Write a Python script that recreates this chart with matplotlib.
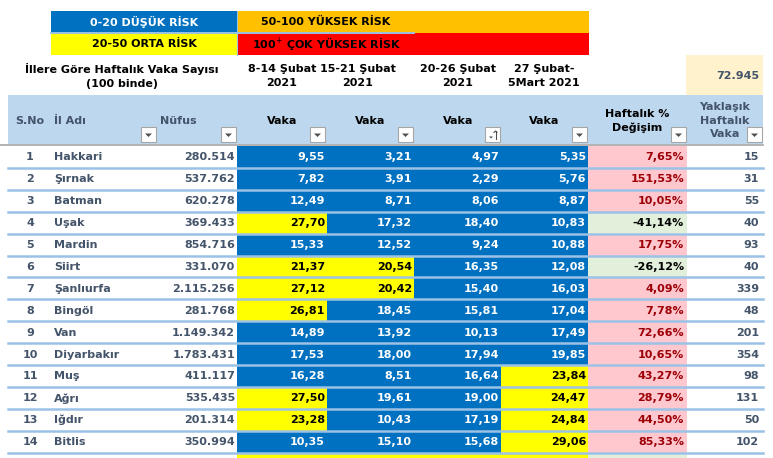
import matplotlib
matplotlib.use("Agg")
import matplotlib.pyplot as plt
from matplotlib.patches import Rectangle, Polygon

plt.rcParams['font.family'] = ['DejaVu Sans']

# table data (values per 100 thousand)
sno = list(range(1, 15))
iller = ["Hakkari", "Şırnak", "Batman", "Uşak", "Mardin", "Siirt", "Şanlıurfa",
         "Bingöl", "Van", "Diyarbakır", "Muş", "Ağrı", "Iğdır", "Bitlis"]
nufus = [280514, 537762, 620278, 369433, 854716, 331070, 2115256,
         281768, 1149342, 1783431, 411117, 535435, 201314, 350994]
hafta1 = [9.55, 7.82, 12.49, 27.70, 15.33, 21.37, 27.12, 26.81, 14.89, 17.53, 16.28, 27.50, 23.28, 10.35]
hafta2 = [3.21, 3.91, 8.71, 17.32, 12.52, 20.54, 20.42, 18.45, 13.92, 18.00, 8.51, 19.61, 10.43, 15.10]
hafta3 = [4.97, 2.29, 8.06, 18.40, 9.24, 16.35, 15.40, 15.81, 10.13, 17.94, 16.64, 19.00, 17.19, 15.68]
hafta4 = [5.35, 5.76, 8.87, 10.83, 10.88, 12.08, 16.03, 17.04, 17.49, 19.85, 23.84, 24.47, 24.84, 29.06]
degisim = [7.65, 151.53, 10.05, -41.14, 17.75, -26.12, 4.09, 7.78, 72.66, 10.65, 43.27, 28.79, 44.50, 85.33]
yaklasik = [15, 31, 55, 40, 93, 40, 339, 48, 201, 354, 98, 131, 50, 102]

hafta_basliklari = ["8-14 Şubat\n2021", "15-21 Şubat\n2021", "20-26 Şubat\n2021", "27 Şubat-\n5Mart 2021"]
toplam = 72945

BLUE = "#0070C0"
YELLOW = "#FFFF00"
ORANGE = "#FFC000"
RED = "#FF0000"
HEAD = "#BDD7EE"
LINE = "#9BC2E6"
SLATE = "#44546A"
PINK = "#FFC7CE"
DARKRED = "#9C0006"
GREEN = "#E2EFDA"
FS = 8


def tr_int(v):
    return f"{v:,}".replace(",", ".")


def tr_dec(v):
    return f"{v:.2f}".replace(".", ",")


fig = plt.figure(figsize=(7.73, 4.58), dpi=100)
ax = fig.add_axes([0, 0, 1, 1])
ax.set_xlim(0, 773)
ax.set_ylim(458, 0)
ax.axis("off")

def box(x0, y0, x1, y1, color, z=1):
    ax.add_patch(Rectangle((x0, y0), x1 - x0, y1 - y0, facecolor=color, edgecolor="none", zorder=z))

# legend
box(51, 11, 237, 33, BLUE)
box(51, 33, 237, 55, YELLOW)
box(237, 11, 589, 33, ORANGE)
box(237, 33, 589, 55, RED)
ax.plot([51, 237], [33, 33], color=LINE, lw=1.4, zorder=2)
ax.plot([237, 237], [11, 55], color=LINE, lw=0.8, zorder=2)
ax.plot([237, 414], [33, 33], color=LINE, lw=1.4, zorder=2)
ax.text(144, 22, "0-20 DÜŞÜK RİSK", color="white", fontsize=FS, fontweight="bold", ha="center", va="center")
ax.text(144, 44, "20-50 ORTA RİSK", color="black", fontsize=FS, fontweight="bold", ha="center", va="center")
ax.text(326, 22, "50-100 YÜKSEK RİSK", color="black", fontsize=FS, fontweight="bold", ha="center", va="center")
ax.text(327, 44, "100$^{+}$ ÇOK YÜKSEK RİSK", color="black", fontsize=FS, fontweight="bold", ha="center", va="center")

# title row
ax.text(122, 76, "İllere Göre Haftalık Vaka Sayısı\n(100 binde)", fontsize=FS, fontweight="bold",
        ha="center", va="center", linespacing=1.55)
for xc, lab in zip([282, 358, 458, 544], hafta_basliklari):
    ax.text(xc, 76, lab, fontsize=FS, fontweight="bold", ha="center", va="center", linespacing=1.55)
box(686, 55, 763, 95, "#FFF2CC")
ax.text(759, 76, tr_int(toplam), color=SLATE, fontsize=FS, fontweight="bold", ha="right", va="center")

# header band
box(8, 95, 763, 144, HEAD)
ax.plot([0, 763], [145, 145], color="#A6A6A6", lw=1.2, zorder=3)
ax.text(30, 121, "S.No", color=SLATE, fontsize=FS, fontweight="bold", ha="center", va="center")
ax.text(54, 121, "İl Adı", color=SLATE, fontsize=FS, fontweight="bold", ha="left", va="center")
ax.text(178, 121, "Nüfus", color=SLATE, fontsize=FS, fontweight="bold", ha="center", va="center")
for xc in [282, 370, 458, 544]:
    ax.text(xc, 121, "Vaka", fontsize=FS, fontweight="bold", ha="center", va="center")
ax.text(637, 121, "Haftalık %\nDeğişim", fontsize=FS, fontweight="bold", ha="center", va="center", linespacing=1.35)
ax.text(725, 120.5, "Yaklaşık\nHaftalık\nVaka", color=SLATE, fontsize=FS, fontweight="bold",
        ha="center", va="center", linespacing=1.4)

# filter buttons
for bx in [141, 221, 310, 398, 485, 572, 671, 747]:
    ax.add_patch(Rectangle((bx, 127), 15, 15, facecolor="white", edgecolor="#A6A6A6", lw=0.8, zorder=4))
    if bx == 485:
        ax.add_patch(Polygon([[bx + 4, 136.5], [bx + 8, 136.5], [bx + 6, 138.5]], closed=True,
                             facecolor="#505050", edgecolor="none", zorder=5))
        ax.plot([bx + 10.5, bx + 10.5], [131, 139], color="#505050", lw=0.8, zorder=5)
        ax.plot([bx + 9, bx + 10.5, bx + 12], [132.5, 131, 132.5], color="#505050", lw=0.8, zorder=5)
    else:
        ax.add_patch(Polygon([[bx + 4, 133.5], [bx + 11, 133.5], [bx + 7.5, 137]], closed=True,
                             facecolor="#505050", edgecolor="none", zorder=5))

# data rows
top0 = 146
rh = 21.9
cols = [(237, 327), (327, 414), (414, 501), (501, 588)]
for i in range(len(iller)):
    t = top0 + i * rh
    yc = t + rh / 2 + 0.5
    ax.text(30, yc, str(sno[i]), color=SLATE, fontsize=FS, fontweight="bold", ha="center", va="center")
    ax.text(54, yc, iller[i], color=SLATE, fontsize=FS, fontweight="bold", ha="left", va="center")
    ax.text(235, yc, tr_int(nufus[i]), color=SLATE, fontsize=FS, fontweight="bold", ha="right", va="center")
    for (x0, x1), seri in zip(cols, [hafta1, hafta2, hafta3, hafta4]):
        v = seri[i]
        if v < 20:
            fc, tc = BLUE, "white"
        elif v < 50:
            fc, tc = YELLOW, "black"
        elif v < 100:
            fc, tc = ORANGE, "black"
        else:
            fc, tc = RED, "black"
        box(x0, t, x1, t + rh, fc)
        ax.text(x1 - 2, yc, tr_dec(v), color=tc, fontsize=FS, fontweight="bold", ha="right", va="center", zorder=6)
    d = degisim[i]
    if d >= 0:
        box(588, t, 687, t + rh, PINK)
        ax.text(684, yc, tr_dec(d) + "%", color=DARKRED, fontsize=FS, fontweight="bold",
                ha="right", va="center", zorder=6)
    else:
        box(588, t, 687, t + rh, GREEN)
        ax.text(684, yc, tr_dec(d) + "%", color="black", fontsize=FS, fontweight="bold",
                ha="right", va="center", zorder=6)
    ax.text(759, yc, str(yaklasik[i]), color=SLATE, fontsize=FS, fontweight="bold", ha="right", va="center")

# partially visible next row
t = top0 + len(iller) * rh
box(237, t, 588, 470, YELLOW)
box(588, t, 687, 470, GREEN)

# row separators
for i in range(1, len(iller) + 1):
    y = top0 + i * rh
    ax.plot([8, 763], [y, y], color=LINE, lw=1.8, zorder=5)

fig.savefig("out.png", dpi=100)
